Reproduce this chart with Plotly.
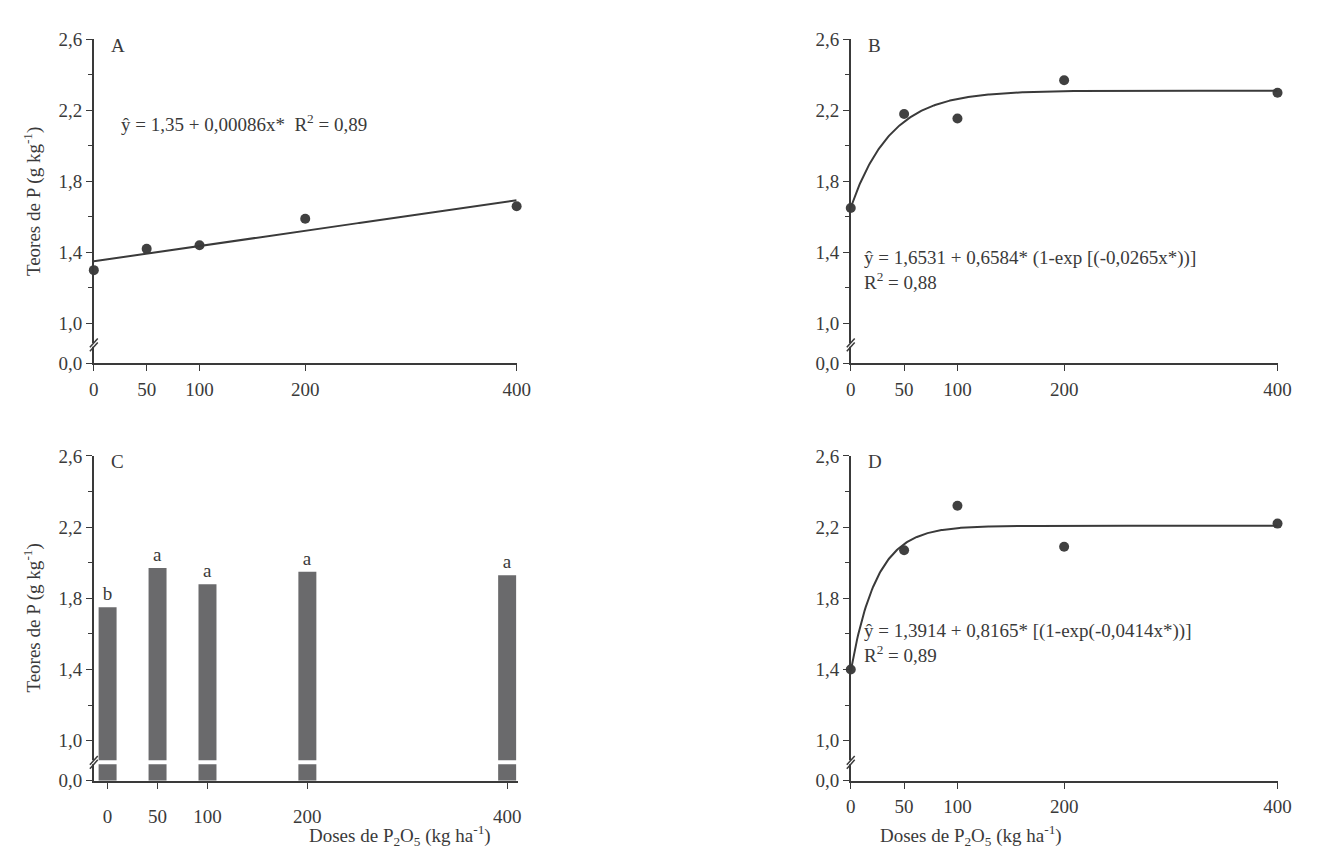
import numpy as np
import plotly.graph_objects as go

W, H = 1319, 856

doses = [0, 50, 100, 200, 400]
teor_a = [1.30, 1.42, 1.44, 1.59, 1.66]
teor_b = [1.65, 2.18, 2.155, 2.37, 2.30]
teor_c = [1.75, 1.97, 1.88, 1.95, 1.93]
letras_c = ["b", "a", "a", "a", "a"]
teor_d = [1.40, 2.07, 2.32, 2.09, 2.22]

# fitted equations printed on the chart
coef_a = (1.35, 0.00086)
coef_b = (1.6531, 0.6584, 0.0265)
coef_d = (1.3914, 0.8165, 0.0414)

Y0 = 0.775  # position standing in for "0,0" below the axis break
ytickvals = [Y0, 1.0, 1.4, 1.8, 2.2, 2.6]
yticktext = ["0,0", "1,0", "1,4", "1,8", "2,2", "2,6"]

FONT = "Times New Roman, Liberation Serif, serif"
INK = "#3a3a3a"
MARK = "#404040"
FS = 19

# pixel boxes: (left, right, top, bottom)
boxes = {
    "A": (82, 511, 22, 354),
    "B": (850, 1283, 22, 354),
    "C": (82, 512, 449, 782),
    "D": (850, 1283, 449, 782),
}
xranges = {"A": [0, 400], "B": [0, 400], "C": [-13.8, 410.5], "D": [0, 400]}

fig = go.Figure()
xs = np.linspace(0, 400, 401)

names = ["A", "B", "C", "D"]
for i, k in enumerate(names, start=1):
    l, r, t, b = boxes[k]
    sfx = "" if i == 1 else str(i)
    fig.layout["xaxis" + sfx] = dict(
        domain=[l / W, r / W], anchor="y" + sfx, range=xranges[k],
        tickvals=doses, ticktext=[str(d) for d in doses],
        showline=True, linecolor=INK, linewidth=1.5, ticks="outside", ticklen=6,
        tickcolor=INK, showgrid=False, zeroline=False,
        ticklabelstandoff=12 if k == "C" else 2,
        tickfont=dict(family=FONT, size=FS, color=INK),
    )
    fig.layout["yaxis" + sfx] = dict(
        domain=[1 - b / H, 1 - t / H], anchor="x" + sfx, range=[Y0, 2.6],
        tickvals=ytickvals, ticktext=yticktext,
        showline=True, linecolor=INK, linewidth=1.5, ticks="outside", ticklen=6,
        tickcolor=INK, showgrid=False, zeroline=False,
        minor=dict(tickvals=[1.2, 1.6, 2.0, 2.4], ticks="outside", ticklen=4, tickcolor=INK),
        tickfont=dict(family=FONT, size=FS, color=INK),
    )

mk = dict(color=MARK, size=10)
line = dict(color=INK, width=2)

fig.add_trace(go.Scatter(x=doses, y=teor_a, mode="markers", marker=mk, xaxis="x", yaxis="y", cliponaxis=False))
fig.add_trace(go.Scatter(x=xs, y=coef_a[0] + coef_a[1] * xs, mode="lines", line=line, xaxis="x", yaxis="y"))

fig.add_trace(go.Scatter(x=doses, y=teor_b, mode="markers", marker=mk, xaxis="x2", yaxis="y2", cliponaxis=False))
fig.add_trace(go.Scatter(x=xs, y=coef_b[0] + coef_b[1] * (1 - np.exp(-coef_b[2] * xs)), mode="lines", line=line, xaxis="x2", yaxis="y2"))

fig.add_trace(go.Bar(x=doses, y=[v - Y0 for v in teor_c], base=Y0, width=18, marker=dict(color="#6a6a6c", line=dict(width=0)),
                     text=letras_c, textposition="outside", textfont=dict(family=FONT, size=FS, color=INK),
                     cliponaxis=False, xaxis="x3", yaxis="y3"))

fig.add_trace(go.Scatter(x=doses, y=teor_d, mode="markers", marker=mk, xaxis="x4", yaxis="y4", cliponaxis=False))
fig.add_trace(go.Scatter(x=xs, y=coef_d[0] + coef_d[1] * (1 - np.exp(-coef_d[2] * xs)), mode="lines", line=line, xaxis="x4", yaxis="y4"))

shapes = []
for i, k in enumerate(names, start=1):
    sfx = "" if i == 1 else str(i)
    l, r, t, b = boxes[k]
    # white band that breaks the axis (and the bars in C)
    shapes.append(dict(type="rect", xref="x" + sfx + " domain", yref="y" + sfx, x0=-0.02, x1=1.0,
                       y0=0.868, y1=0.89, fillcolor="white", line=dict(width=0), layer="above"))
    for yy in (0.868, 0.89):
        shapes.append(dict(type="line", xref="paper", yref="y" + sfx,
                           x0=(l - 4) / W, x1=(l + 4) / W, y0=yy - 0.025, y1=yy + 0.025,
                           line=dict(color=INK, width=1.5), layer="above"))

ann = []
tf = dict(family=FONT, size=FS, color=INK)
for i, k in enumerate(names, start=1):
    l, r, t, b = boxes[k]
    ann.append(dict(text=k, x=(l + 15) / W, y=1 - (t + 6) / H, xref="paper", yref="paper",
                    xanchor="left", yanchor="middle", showarrow=False, font=tf))
ann += [
    dict(text="ŷ = 1,35 + 0,00086x*  R<sup>2</sup> = 0,89", x=108 / W, y=1 - 108 / H, xref="paper", yref="paper",
         xanchor="left", yanchor="middle", showarrow=False, font=tf),
    dict(text="ŷ = 1,6531 + 0,6584* (1-exp [(-0,0265x*))]<br>R<sup>2</sup> = 0,88", x=861 / W, y=1 - 258 / H,
         xref="paper", yref="paper", xanchor="left", yanchor="middle", align="left", showarrow=False, font=tf),
    dict(text="ŷ = 1,3914 + 0,8165* [(1-exp(-0,0414x*))]<br>R<sup>2</sup> = 0,89", x=861 / W, y=1 - 641 / H,
         xref="paper", yref="paper", xanchor="left", yanchor="middle", align="left", showarrow=False, font=tf),
    dict(text="Teores de P (g kg<sup>-1</sup>)", x=20 / W, y=1 - 188 / H, xref="paper", yref="paper",
         xanchor="center", yanchor="middle", textangle=-90, showarrow=False, font=tf),
    dict(text="Teores de P (g kg<sup>-1</sup>)", x=20 / W, y=1 - 615 / H, xref="paper", yref="paper",
         xanchor="center", yanchor="middle", textangle=-90, showarrow=False, font=tf),
    dict(text="Doses de P<sub>2</sub>O<sub>5</sub> (kg ha<sup>-1</sup>)", x=298 / W, y=1 - 838 / H,
         xref="paper", yref="paper", yanchor="middle", showarrow=False, font=tf),
    dict(text="Doses de P<sub>2</sub>O<sub>5</sub> (kg ha<sup>-1</sup>)", x=1066 / W, y=1 - 838 / H,
         xref="paper", yref="paper", yanchor="middle", showarrow=False, font=tf),
]

fig.update_layout(width=W, height=H, margin=dict(l=0, r=0, t=0, b=0), autosize=False,
                  plot_bgcolor="white", paper_bgcolor="white", showlegend=False,
                  shapes=shapes, annotations=ann, font=dict(family=FONT, color=INK))

fig.write_html("out.html")
